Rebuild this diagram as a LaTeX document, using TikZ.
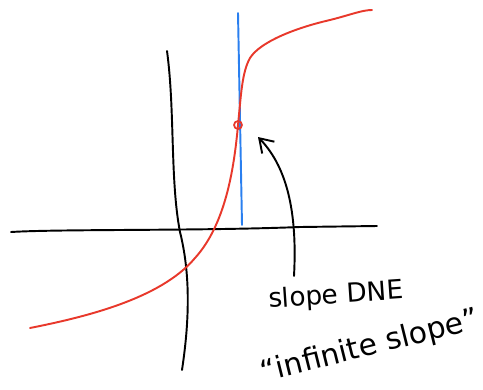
\documentclass[tikz,border=0pt]{standalone}
\usepackage{fontspec}
\setmainfont{DejaVu Sans}
\usetikzlibrary{arrows.meta}
\definecolor{pred}{HTML}{E8382B}
\definecolor{pblue}{HTML}{2A7FEF}
\tikzset{
  every picture/.style={line width=1.1pt, line cap=round, line join=round},
  axis/.style={draw=black},
  curve/.style={draw=pred},
  tangent/.style={draw=pblue},
  pointer/.style={-{Straight Barb[length=2.6mm, width=3.4mm]}, draw=black},
  hand/.style={font=\fontsize{15}{18}\selectfont, inner sep=0pt},
}

\begin{document}
\begin{tikzpicture}[x=0.02cm, y=-0.02cm]
  \useasboundingbox (0,0) rectangle (483,389);
  % axes
  \draw[axis] (11,232) .. controls (60,229) and (200,231) .. (300,227) -- (377,226);
  \draw[axis] (167,51) .. controls (175,110) and (170,180) .. (180,232)
    .. controls (192,280) and (188,330) .. (182,370);
  % vertical tangent
  \draw[tangent] (238,13) -- (242,225);
  % curve
  \coordinate (pt) at (238,125);
  \draw[curve] (30,328) .. controls (80,318) and (160,300) .. (195,258)
    .. controls (225,225) and (234,170) .. (pt)
    .. controls (241,95) and (242,72) .. (250,58)
    .. controls (260,42) and (295,28) .. (330,20)
    .. controls (350,15) and (362,10) .. (372,10);
  \draw[pred, line width=1pt] (pt) circle (4);
  % label and arrow
  \node[hand, rotate=4] (dne) at (336,296) {slope DNE};
  \node[hand, font=\fontsize{17}{20}\selectfont, rotate=14] (inf) at (370,347) {“infinite slope”};
  \coordinate (start) at (294,276);
  \coordinate (tip) at (258,137);
  \draw[pointer] (start) .. controls (297,220) and (290,170) .. (tip);
\end{tikzpicture}
\end{document}
